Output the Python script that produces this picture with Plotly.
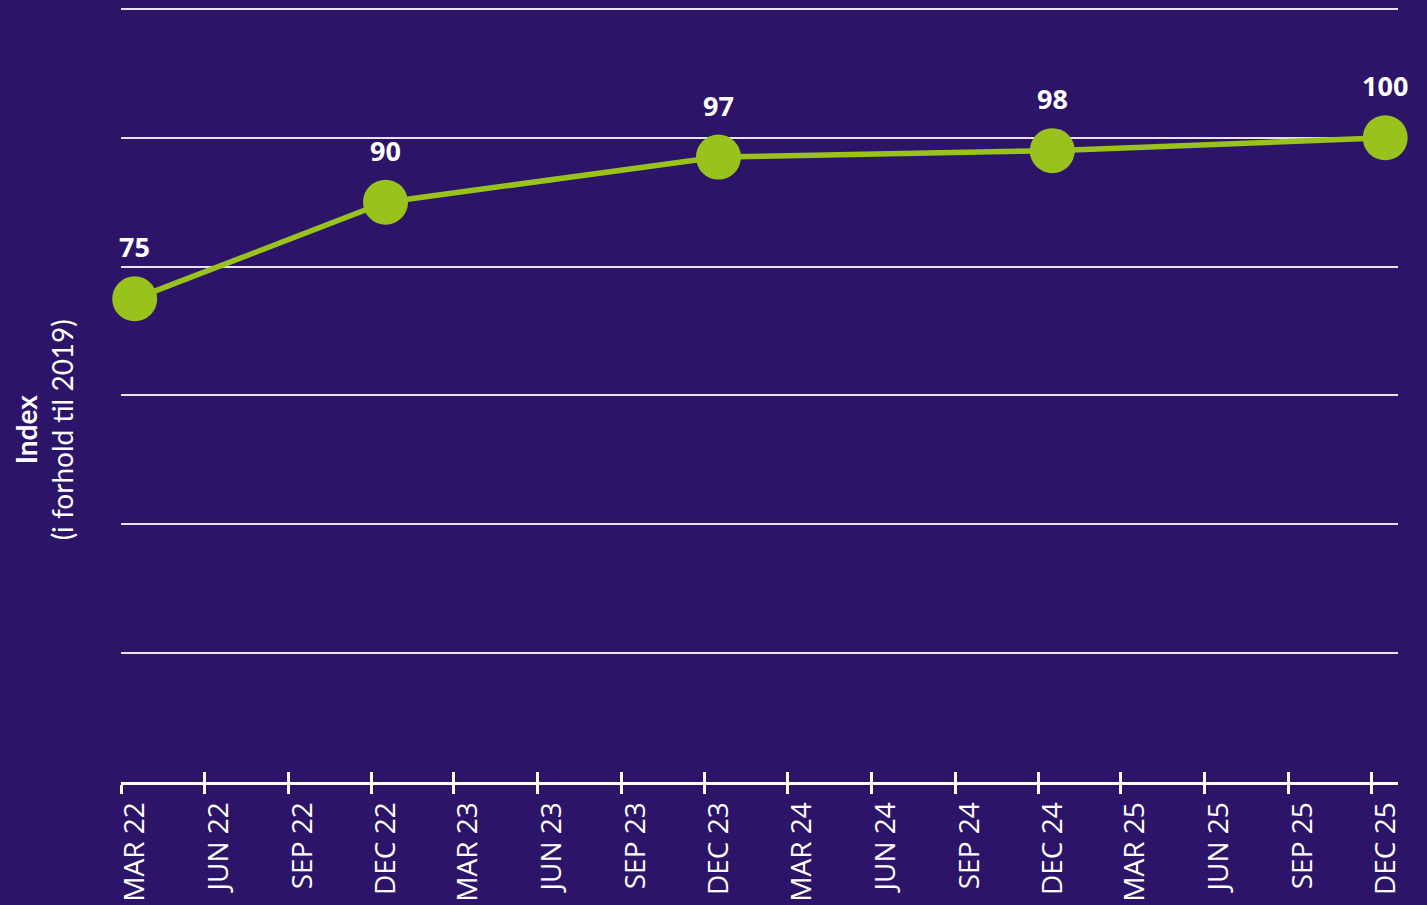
import pandas as pd
import plotly.graph_objects as go

# ---- data ----
tick_labels = ["MAR 22", "JUN 22", "SEP 22", "DEC 22", "MAR 23", "JUN 23", "SEP 23", "DEC 23",
               "MAR 24", "JUN 24", "SEP 24", "DEC 24", "MAR 25", "JUN 25", "SEP 25", "DEC 25"]
tick_dates = list(pd.date_range("2022-03-01", periods=16, freq="3MS"))
point_dates = ["2022-03-16", "2022-12-16", "2023-12-16", "2024-12-16", "2025-12-16"]
index_values = [75, 90, 97, 98, 100]
y_title_bold = "Index"
y_title_sub = "(i forhold til 2019)"

BG = "#2C1569"
GREEN = "#99C31C"
W = 1427
H = 905
L, R, T, B = 121, 29, 7, 123

fig = go.Figure()
fig.add_trace(go.Scatter(
    x=point_dates, y=index_values,
    mode="lines+markers",
    line=dict(color=GREEN, width=5.5),
    marker=dict(color=GREEN, size=45),
    cliponaxis=False,
    hoverinfo="skip",
    showlegend=False,
))
# invisible trace on overlay axis so it renders
fig.add_trace(go.Scatter(x=point_dates, y=index_values, xaxis="x2", mode="markers",
                         marker=dict(opacity=0), showlegend=False, hoverinfo="skip"))

annotations = [dict(
    x=d, y=v, xref="x", yref="y", text=f"<b>{v}</b>", showarrow=False,
    xanchor="center", yanchor="middle", yshift=52,
    font=dict(family="Open Sans", size=27, color="white"),
) for d, v in zip(point_dates, index_values)]

annotations.append(dict(
    xref="paper", yref="paper", x=-0.0603, y=0.455,
    xanchor="center", yanchor="middle", textangle=-90, showarrow=False,
    text=f"<b>{y_title_bold}</b><br>{y_title_sub}",
    font=dict(family="Lato", size=28, color="white"),
))

xrange = ["2022-03-01", "2025-12-30"]
fig.update_layout(
    width=W, height=H,
    paper_bgcolor=BG, plot_bgcolor=BG,
    margin=dict(l=L, r=R, t=T, b=B, autoexpand=False),
    xaxis=dict(
        type="date", range=xrange,
        tickvals=tick_dates, ticktext=tick_labels,
        tickangle=-90, ticks="outside", ticklen=9, tickwidth=3, tickcolor="white",
        showline=True, linecolor="white", linewidth=3,
        showgrid=False, zeroline=False,
        tickfont=dict(family="Open Sans", size=28, color="white"),
        ticklabelshift=14, ticklabelstandoff=-3,
        automargin=False,
    ),
    xaxis2=dict(
        type="date", range=xrange, overlaying="x", anchor="y", side="bottom",
        tickvals=tick_dates, ticks="inside", ticklen=10, tickwidth=3, tickcolor="white",
        showticklabels=False, showgrid=False, zeroline=False, showline=False,
    ),
    yaxis=dict(
        range=[0, 120.3], tickvals=[20, 40, 60, 80, 100, 120], showticklabels=False,
        showgrid=True, gridcolor="#E6E2F0", gridwidth=2, zeroline=False,
        automargin=False,
    ),
    annotations=annotations,
)

fig.write_html("out.html", config={"displayModeBar": False},
               post_script="document.body.style.margin='0';document.body.style.background='#2C1569';")
